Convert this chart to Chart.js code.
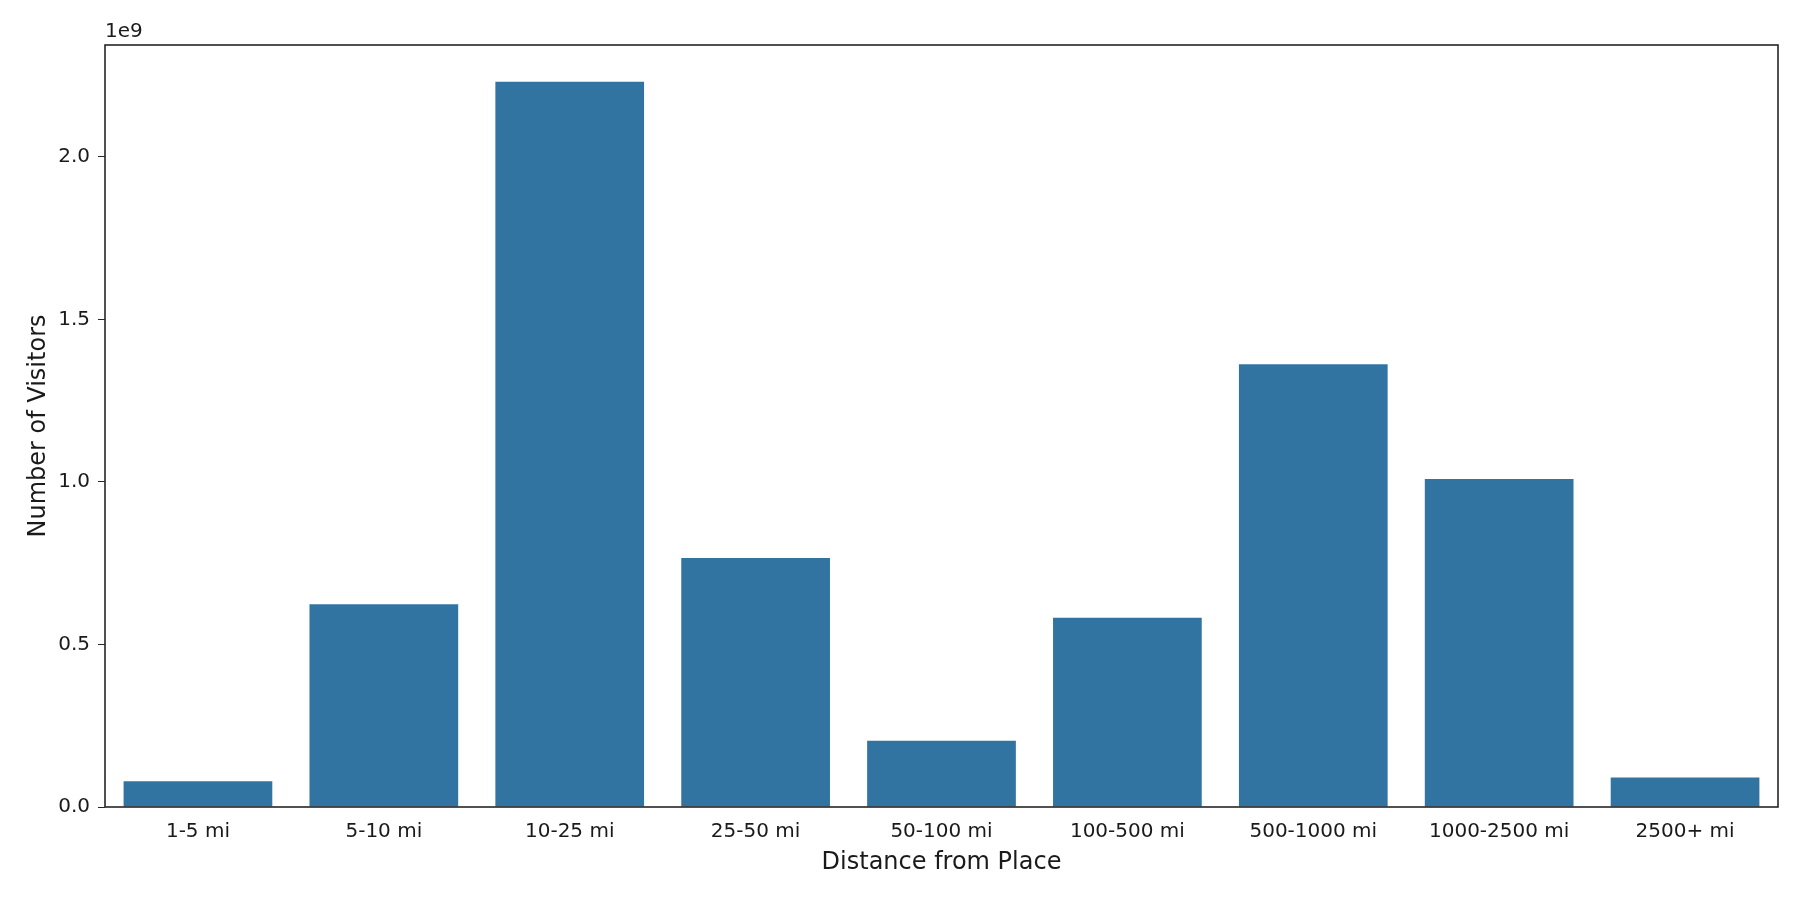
<!DOCTYPE html>
<html lang="en">
<head>
    <meta charset="UTF-8">
    <title>Distance from Place</title>
    <script src="https://cdn.jsdelivr.net/npm/chart.js"></script>
    <style>
        html, body { margin: 0; padding: 0; background: #fff; overflow: hidden; }
        #myChart { display: block; }
    </style>
</head>
<body>
<canvas id="myChart" width="1800" height="900"></canvas>
<script>
  // values, in visitors
  const categories = ['1-5 mi', '5-10 mi', '10-25 mi', '25-50 mi', '50-100 mi',
                      '100-500 mi', '500-1000 mi', '1000-2500 mi', '2500+ mi'];
  const visitors = [0.079e9, 0.624e9, 2.231e9, 0.766e9, 0.204e9,
                    0.582e9, 1.362e9, 1.009e9, 0.091e9];
  const yTicks = [0, 0.5e9, 1.0e9, 1.5e9, 2.0e9];

  const fontFamily = '"DejaVu Sans", sans-serif';
  const ink = '#1a1a1a';

  // frame round the plot plus the "1e9" offset label
  const framePlugin = {
    id: 'frame',
    afterDraw(chart) {
      const { ctx, chartArea: a } = chart;
      ctx.save();
      ctx.strokeStyle = '#262626';
      ctx.lineWidth = 1.6;
      ctx.strokeRect(a.left, a.top, a.right - a.left, a.bottom - a.top);
      ctx.fillStyle = ink;
      ctx.font = '20px ' + fontFamily;
      ctx.textAlign = 'left';
      ctx.textBaseline = 'bottom';
      ctx.fillText('1e9', a.left, a.top - 3);
      ctx.restore();
    }
  };

  const ctx = document.getElementById('myChart').getContext('2d');
  new Chart(ctx, {
    type: 'bar',
    data: {
      labels: categories,
      datasets: [{
        data: visitors,
        backgroundColor: '#3274a1',
        borderWidth: 0,
        categoryPercentage: 1.0,
        barPercentage: 0.8
      }]
    },
    options: {
      responsive: false,
      animation: false,
      devicePixelRatio: 1,
      layout: { padding: { top: 45, right: 22, left: 0, bottom: 23 } },
      plugins: {
        legend: { display: false },
        tooltip: { enabled: false }
      },
      scales: {
        x: {
          offset: true,
          grid: { display: false, drawTicks: true, tickLength: 7, tickColor: '#262626' },
          border: { display: false },
          ticks: {
            color: ink,
            font: { family: fontFamily, size: 20 },
            padding: 6,
            maxRotation: 0,
            autoSkip: false
          },
          title: {
            display: true,
            text: 'Distance from Place',
            color: ink,
            font: { family: fontFamily, size: 24 },
            padding: { top: 2, bottom: 0 }
          },
          afterFit(scale) { scale.height = 70; }
        },
        y: {
          min: 0,
          max: 2.344e9,
          afterBuildTicks(scale) {
            scale.ticks = yTicks.map(v => ({ value: v }));
          },
          grid: { drawOnChartArea: false, drawTicks: true, tickLength: 7, tickColor: '#262626' },
          border: { display: false },
          ticks: {
            color: ink,
            font: { family: fontFamily, size: 20 },
            padding: 8,
            callback: v => (v / 1e9).toFixed(1)
          },
          title: {
            display: true,
            text: 'Number of Visitors',
            color: ink,
            font: { family: fontFamily, size: 24 },
            padding: { top: 24, bottom: 0 }
          },
          afterFit(scale) { scale.width = 105; }
        }
      }
    },
    plugins: [framePlugin]
  });
</script>
</body>
</html>
